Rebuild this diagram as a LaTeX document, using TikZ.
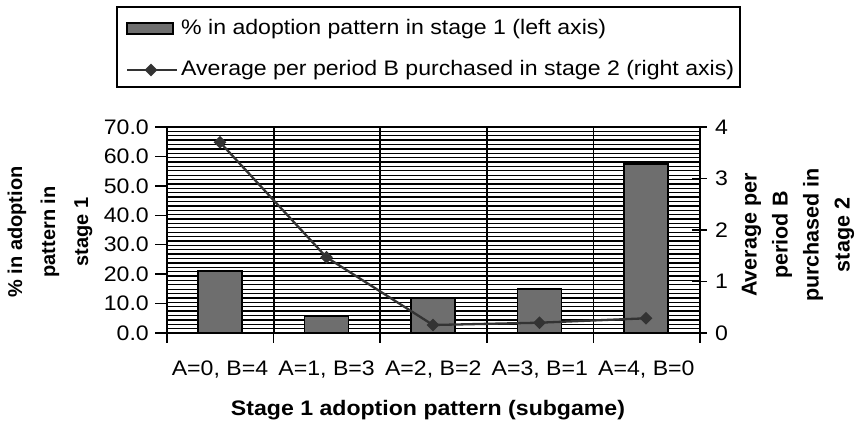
\documentclass[tikz,border=0pt]{standalone}
\usepackage{fontspec}
\setmainfont{Liberation Sans}[FakeStretch=1.1]
\newfontfamily\titlesans{Liberation Sans}
\usetikzlibrary{shapes.geometric}

\definecolor{barfill}{HTML}{6E6E6E}
\definecolor{seriesgray}{HTML}{333333}

\tikzset{
  hatchline/.style={line width=1.3pt, black},
  gridv/.style={line width=1.8pt, black},
  frameline/.style={line width=1.8pt, black},
  tickline/.style={line width=1.5pt, black},
  barbox/.style={draw=black, line width=1.6pt, fill=barfill},
  seriesline/.style={line width=2.3pt, seriesgray},
  dmark/.style={diamond, fill=seriesgray, inner sep=0pt, minimum size=13pt},
  ticklab/.style={font=\fontsize{21}{24}\selectfont, inner sep=0pt},
  catlab/.style={font=\fontsize{21}{24}\selectfont, inner sep=0pt, anchor=base},
  axtitle/.style={rotate=90, align=center, inner sep=0pt},
  legtext/.style={font=\fontsize{21}{24}\selectfont, inner sep=0pt, anchor=base west},
  legendbox/.style={draw=black, line width=1.6pt, fill=white,
                    minimum width=623pt, minimum height=80pt, inner sep=0pt}
}

\begin{document}
\begin{tikzpicture}[x=1pt, y=-1pt]
  \useasboundingbox[fill=white] (0,0) rectangle (855,422);

  % legend
  \node[legendbox] (legend) at (428.5,47) {};
  \node[barbox, minimum width=46pt, minimum height=11pt, inner sep=0pt,
        line width=1.4pt] (swatch) at (150,28.5) {};
  \coordinate (legA) at (127,70);
  \coordinate (legB) at (177,70);
  \draw[seriesline] (legA) -- (legB);
  \node[dmark] (legmark) at (151,70) {};
  \node[legtext] (leg1) at (181,35) {\% in adoption pattern in stage 1 (left axis)};
  \node[legtext] (leg2) at (181,76) {Average per period B purchased in stage 2 (right axis)};

  % plot area with horizontal hatching
  \foreach \k in {1,...,47} {
    \draw[hatchline] (167,{127+\k*4.383}) -- (700,{127+\k*4.383});
  }
  \foreach \k in {1,...,4} {
    \draw[gridv] ({167+\k*106.6},127) -- ({167+\k*106.6},333);
  }

  % bars (left axis, 2.943 px per unit)
  \foreach \c/\v in {220/21.1, 326.5/5.6, 433/11.7, 539.5/15.0, 646/57.4} {
    \draw[barbox] ({\c-22},333) rectangle ({\c+22},{333-\v*2.943});
  }

  % frame
  \draw[frameline] (167,127) rectangle (700,333);

  % left axis ticks and labels
  \foreach \v/\t in {0/0.0, 10/10.0, 20/20.0, 30/30.0, 40/40.0, 50/50.0, 60/60.0, 70/70.0} {
    \draw[tickline] (155,{333-\v*2.943}) -- (167,{333-\v*2.943});
    \node[ticklab, anchor=east] (ly\v) at (149,{333-\v*2.943}) {\t};
  }

  % right axis ticks and labels
  \foreach \v in {0,...,4} {
    \draw[tickline] (692,{333-\v*51.5}) -- (707,{333-\v*51.5});
    \node[ticklab, anchor=west] (ry\v) at (715,{333-\v*51.5}) {\v};
  }

  % category ticks and labels
  \foreach \k in {0,...,5} {
    \draw[tickline] ({167+\k*106.6},333) -- ({167+\k*106.6},343);
  }
  \foreach \t [count=\i from 0] in {{A=0, B=4},{A=1, B=3},{A=2, B=2},{A=3, B=1},{A=4, B=0}} {
    \node[catlab] (cx\i) at ({220+\i*106.6},375) {\t};
  }

  % line series (right axis, 51.5 px per unit)
  \coordinate (c1) at (220,142.3);
  \coordinate (c2) at (326.5,257.3);
  \coordinate (c3) at (433,325);
  \coordinate (c4) at (539.5,322.7);
  \coordinate (c5) at (646,318.3);
  \draw[seriesline] (c1) -- (c2) -- (c3) -- (c4) -- (c5);
  \foreach \i in {1,...,5} {
    \node[dmark] (p\i) at (c\i) {};
  }

  % axis titles
  \node[font=\bfseries\fontsize{21}{24}\selectfont, anchor=base, inner sep=0pt]
    (xtitle) at (428,415) {Stage 1 adoption pattern (subgame)};
  \node[axtitle, font=\titlesans\bfseries\fontsize{20}{33}\selectfont]
    (ltitle) at (50,232) {\% in adoption\\pattern in\\stage 1};
  \node[axtitle, font=\titlesans\bfseries\fontsize{21.5}{31}\selectfont]
    (rtitle) at (798,235) {Average per\\period B\\purchased in\\stage 2};
\end{tikzpicture}
\end{document}
